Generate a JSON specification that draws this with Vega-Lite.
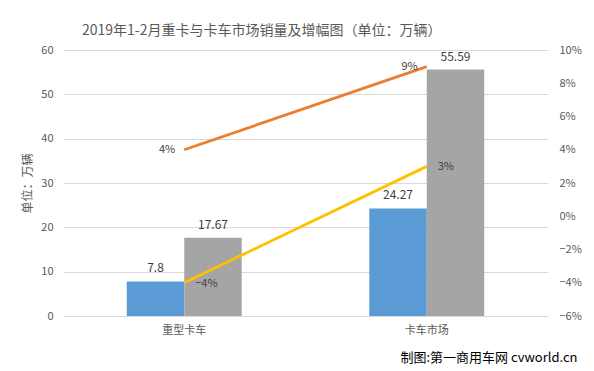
{
  "$schema": "https://vega.github.io/schema/vega-lite/v6.json",
  "autosize": {"type": "none"},
  "width": 485,
  "height": 266,
  "padding": {"left": 63, "top": 50, "right": 46, "bottom": 55},
  "background": "white",
  "config": {
    "font": "Noto Sans CJK SC",
    "view": {"stroke": null},
    "axis": {"labelColor": "#595959", "labelFontSize": 11, "titleColor": "#595959", "ticks": false, "domain": false}
  },
  "title": {
    "text": "2019年1-2月重卡与卡车市场销量及增幅图（单位：万辆）",
    "anchor": "start",
    "frame": "group",
    "dx": 19,
    "dy": 3,
    "offset": 9,
    "fontSize": 14,
    "fontWeight": "normal",
    "color": "#595959"
  },
  "datasets": {
    "bars": [
      {"cat": "重型卡车", "series": "2月销量", "value": 7.8},
      {"cat": "重型卡车", "series": "1-2月累计销量", "value": 17.67},
      {"cat": "卡车市场", "series": "2月销量", "value": 24.27},
      {"cat": "卡车市场", "series": "1-2月累计销量", "value": 55.59}
    ],
    "lines": [
      {"cat": "重型卡车", "series": "1-2月累计增幅", "pct": 0.04},
      {"cat": "卡车市场", "series": "1-2月累计增幅", "pct": 0.09},
      {"cat": "重型卡车", "series": "2月增幅", "pct": -0.04},
      {"cat": "卡车市场", "series": "2月增幅", "pct": 0.03}
    ]
  },
  "resolve": {"scale": {"y": "independent"}},
  "layer": [
    {
      "data": {"name": "bars"},
      "encoding": {
        "x": {
          "field": "cat", "type": "nominal", "sort": ["重型卡车", "卡车市场"],
          "scale": {"paddingInner": 0.526, "paddingOuter": 0.263},
          "axis": {
            "labelAngle": 0, "labelPadding": 8, "domain": true, "domainColor": "#d9d9d9",
            "title": "制图:第一商用车网 cvworld.cn",
            "titleColor": "#000000", "titleFontSize": 13, "titleFontWeight": "normal",
            "titleAlign": "right", "titleBaseline": "alphabetic", "titleX": 514, "titleY": 45
          }
        },
        "xOffset": {"field": "series", "type": "nominal", "sort": ["2月销量", "1-2月累计销量"]},
        "y": {
          "field": "value", "type": "quantitative",
          "scale": {"domain": [0, 60]},
          "axis": {
            "orient": "left", "values": [0, 10, 20, 30, 40, 50, 60], "grid": true, "gridColor": "#d9d9d9",
            "labelPadding": 10, "title": "单位：万辆", "titleFontSize": 12, "titleFontWeight": "normal", "titlePadding": 6
          }
        }
      },
      "layer": [
        {
          "mark": {"type": "bar"},
          "encoding": {
            "color": {
              "field": "series", "type": "nominal", "legend": null,
              "scale": {"domain": ["2月销量", "1-2月累计销量", "1-2月累计增幅", "2月增幅"], "range": ["#5b9bd5", "#a5a5a5", "#ed7d31", "#ffc000"]}
            }
          }
        },
        {
          "mark": {"type": "text", "dy": -6, "fontSize": 12, "color": "#404040", "baseline": "bottom"},
          "encoding": {"text": {"field": "value", "type": "quantitative"}}
        }
      ]
    },
    {
      "data": {"name": "lines"},
      "encoding": {
        "x": {"field": "cat", "type": "nominal", "sort": ["重型卡车", "卡车市场"]},
        "y": {
          "field": "pct", "type": "quantitative",
          "scale": {"domain": [-0.06, 0.10]},
          "axis": {
            "orient": "right", "values": [-0.06, -0.04, -0.02, 0, 0.02, 0.04, 0.06, 0.08, 0.10],
            "format": ".0%", "grid": false, "labelPadding": 11, "title": null
          }
        }
      },
      "layer": [
        {
          "mark": {"type": "line", "strokeWidth": 2.8},
          "encoding": {
            "color": {
              "field": "series", "type": "nominal", "legend": null,
              "scale": {"domain": ["2月销量", "1-2月累计销量", "1-2月累计增幅", "2月增幅"], "range": ["#5b9bd5", "#a5a5a5", "#ed7d31", "#ffc000"]}
            }
          }
        },
        {
          "transform": [{"filter": "datum.series == '1-2月累计增幅'"}],
          "mark": {"type": "text", "align": "right", "dx": -9, "fontSize": 11, "color": "#404040", "baseline": "middle"},
          "encoding": {"text": {"field": "pct", "type": "quantitative", "format": ".0%"}}
        },
        {
          "transform": [{"filter": "datum.series == '2月增幅'"}],
          "mark": {"type": "text", "align": "left", "dx": 11, "dy": 1, "fontSize": 11, "color": "#404040", "baseline": "middle"},
          "encoding": {"text": {"field": "pct", "type": "quantitative", "format": ".0%"}}
        }
      ]
    }
  ]
}
